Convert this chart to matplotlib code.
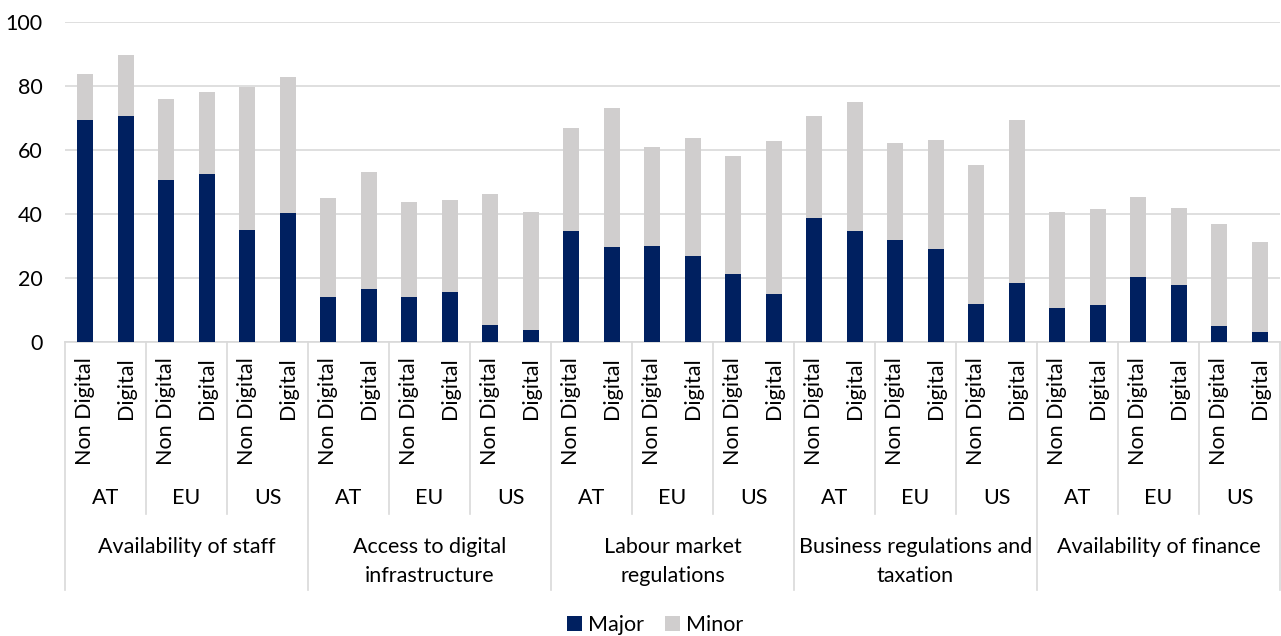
import matplotlib
matplotlib.use("Agg")
import matplotlib.pyplot as plt
from matplotlib import transforms

plt.rcParams['font.family'] = ['Lato', 'DejaVu Sans']

categories = ["Availability of staff", "Access to digital\ninfrastructure",
              "Labour market\nregulations", "Business regulations and\ntaxation",
              "Availability of finance"]
regions = ["AT", "EU", "US"]
types = ["Non Digital", "Digital"]

major = [69.5, 70.8, 50.7, 52.4, 35.0, 40.5,
         14.0, 16.6, 14.1, 15.7, 5.4, 3.8,
         34.7, 29.8, 30.1, 27.0, 21.3, 15.0,
         38.8, 34.8, 32.0, 29.2, 11.9, 18.4,
         10.6, 11.5, 20.5, 17.9, 5.0, 3.3]
minor = [14.3, 18.8, 25.4, 25.6, 44.8, 42.3,
         31.0, 36.6, 29.7, 28.7, 40.9, 36.9,
         32.2, 43.5, 30.9, 36.8, 36.9, 47.8,
         31.8, 40.2, 30.2, 33.9, 43.6, 51.0,
         30.1, 30.2, 24.8, 23.9, 32.0, 27.9]

W, H = 1281, 636
fig = plt.figure(figsize=(W / 100, H / 100), dpi=100)
y0_px, y100_px = 342.3, 22.0
left_px, right_px = 65.0, 1280.0
ax = fig.add_axes([left_px / W, 1 - y0_px / H, (right_px - left_px) / W, (y0_px - y100_px) / H])

n = len(major)
x = list(range(n))
navy = "#002060"
grey = "#D0CECE"
gridc = "#D9D9D9"
ax.bar(x, major, width=0.4, color=navy, label="Major", zorder=3)
ax.bar(x, minor, width=0.4, bottom=major, color=grey, label="Minor", zorder=3)

fs = 15.5
ax.set_xlim(-0.5, n - 0.5)
ax.set_ylim(0, 100)
ax.set_yticks([0, 20, 40, 60, 80, 100])
ax.yaxis.grid(True, color=gridc, linewidth=1.2, zorder=0)
ax.tick_params(axis='y', length=0, pad=16, labelsize=fs, labelcolor='black')
ax.set_xticks([])
for s in ['top', 'right', 'left']:
    ax.spines[s].set_visible(False)
ax.spines['bottom'].set_color(gridc)
ax.spines['bottom'].set_linewidth(1.2)

axh = y0_px - y100_px
def yf(py):
    return (y0_px - py) / axh

tr = transforms.blended_transform_factory(ax.transData, ax.transAxes)

# type labels
for i in range(n):
    ax.text(i, yf(357), types[i % 2], rotation=90, ha='center', va='top',
            fontsize=fs, transform=tr, clip_on=False)
# region labels
for j in range(n // 2):
    ax.text(2 * j + 0.5, yf(498), regions[j % 3], ha='center', va='center',
            fontsize=fs, transform=tr, clip_on=False)
# category labels
for k, c in enumerate(categories):
    ax.text(6 * k + 2.5, yf(537), c, ha='center', va='top', fontsize=fs,
            transform=tr, clip_on=False, linespacing=1.58)

# separators
for b in range(0, n + 1, 2):
    xb = b - 0.5
    bottom = 590 if b % 6 == 0 else 514
    ax.plot([xb, xb], [0, yf(bottom)], color=gridc, lw=1.2, transform=tr,
            clip_on=False, zorder=1)

fig.legend(loc='center', bbox_to_anchor=(655 / W, 1 - 625 / H), ncol=2, frameon=False,
           fontsize=fs, handlelength=0.7, handleheight=0.7, columnspacing=1.0,
           handletextpad=0.25, borderaxespad=0)

fig.savefig("out.png", dpi=100)
